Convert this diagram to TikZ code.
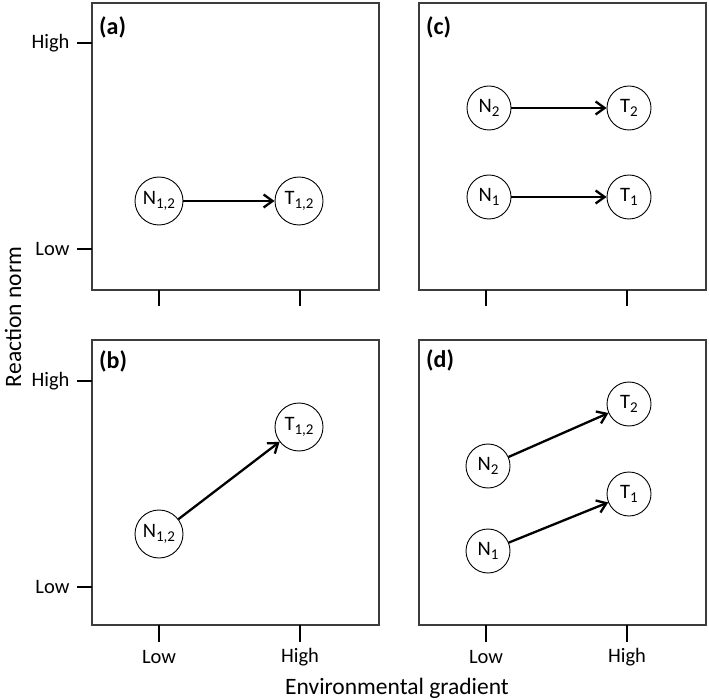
\documentclass[tikz,border=0pt]{standalone}
\usepackage{fontspec}
\setmainfont{Carlito}
\usetikzlibrary{arrows.meta, positioning}
\definecolor{frameGray}{RGB}{60, 60, 60}
\newcommand{\sbs}[1]{\raisebox{-0.45ex}{\fontsize{15}{17}\selectfont #1}}

\begin{document}
\begin{tikzpicture}[x=1pt, y=-1pt, font=\fontsize{20.5}{24}\selectfont,
  pan/.style={draw=frameGray, line width=1.3pt},
  tck/.style={line width=1.7pt},
  ttl/.style={font=\fontsize{23.5}{28}\selectfont},
  big/.style={circle, draw, line width=0.9pt, minimum size=48pt, inner sep=0pt,
              font=\fontsize{20.5}{24}\selectfont},
  sml/.style={big, minimum size=44pt},
  flow/.style={-{Straight Barb[length=9pt, width=13pt, line width=2.3pt]}, line width=2.3pt},
  tag/.style={anchor=west, font=\fontsize{24}{28}\selectfont\bfseries, inner sep=0pt}]

  \useasboundingbox (0,0) rectangle (709,700);

  % panels
  \draw[pan] (92,3)   rectangle (379,290);
  \draw[pan] (419,3)  rectangle (706,290);
  \draw[pan] (92,340) rectangle (379,625);
  \draw[pan] (419,340) rectangle (706,625);
  \node[tag] (ta) at (99,27)   {(a)};
  \node[tag] (tc) at (426,27)  {(c)};
  \node[tag] (tb) at (99,361)  {(b)};
  \node[tag] (td) at (426,360) {(d)};

  % ticks
  \foreach \y in {43,249,381,587}
    \draw[tck] (77,\y) -- (92,\y);
  \foreach \x in {159,300,486,627} {
    \draw[tck] (\x,290) -- (\x,306);
    \draw[tck] (\x,625) -- (\x,642);
  }
  \node[anchor=east] (hiA) at (73,43)  {High};
  \node[anchor=east] (loA) at (73,249) {Low};
  \node[anchor=east] (hiB) at (73,381) {High};
  \node[anchor=east] (loB) at (73,587) {Low};
  \node (loX1) at (159,657) {Low};
  \node (hiX1) at (300,657) {High};
  \node (loX2) at (486,657) {Low};
  \node (hiX2) at (627,657) {High};
  \node[ttl] (xlab) at (397,688) {Environmental gradient};
  \node[ttl, rotate=90] (ylab) at (13,317) {Reaction norm};

  % (a)
  \node[big] (aN) at (159,201) {N\sbs{1,2}};
  \node[big] (aT) at (299,201) {T\sbs{1,2}};
  \draw[flow] (aN) -- (aT);

  % (b)
  \node[big] (bN) at (159,534) {N\sbs{1,2}};
  \node[big] (bT) at (299,427) {T\sbs{1,2}};
  \draw[flow] (bN) -- (bT);

  % (c)
  \node[sml] (cN2) at (489,108) {N\sbs{2}};
  \node[sml] (cT2) at (629,108) {T\sbs{2}};
  \node[sml] (cN1) at (489,197) {N\sbs{1}};
  \node[sml] (cT1) at (629,197) {T\sbs{1}};
  \draw[flow] (cN2) -- (cT2);
  \draw[flow] (cN1) -- (cT1);

  % (d)
  \node[sml] (dN2) at (488,466) {N\sbs{2}};
  \node[sml] (dT2) at (629,404) {T\sbs{2}};
  \node[sml] (dN1) at (488,551) {N\sbs{1}};
  \node[sml] (dT1) at (629,494) {T\sbs{1}};
  \draw[flow] (dN2) -- (dT2);
  \draw[flow] (dN1) -- (dT1);

\end{tikzpicture}
\end{document}
